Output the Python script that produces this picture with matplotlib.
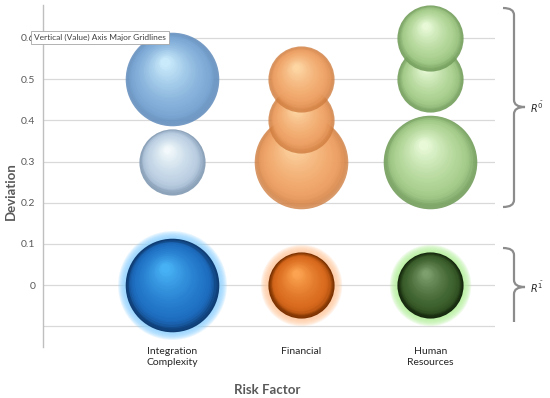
import numpy as np
import matplotlib
matplotlib.use("Agg")
import matplotlib.pyplot as plt
from matplotlib.transforms import offset_copy
from matplotlib.path import Path
from matplotlib.patches import PathPatch
from matplotlib.colors import to_rgb

# ---------------- data ----------------
categories = ["Integration\nComplexity", "Financial", "Human\nResources"]
cat_pos = [1, 2, 3]

# upper group (R^0-bar)
upper_cat = [0, 0, 1, 1, 1, 2, 2, 2]
upper_dev = [0.5, 0.3, 0.5, 0.4, 0.3, 0.6, 0.5, 0.3]
upper_size = [2, 1, 1, 1, 2, 1, 1, 2]

# lower group (R^1-bar)
lower_cat = [0, 1, 2]
lower_dev = [0.0, 0.0, 0.0]
lower_size = [2, 1, 1]

y_ticks = [-0.1, 0.0, 0.1, 0.2, 0.3, 0.4, 0.5, 0.6]
y_tick_labels = ["", "0", "0.1", "0.2", "0.3", "0.4", "0.5", "0.6"]

# ---------------- style ----------------
plt.rcParams['font.family'] = ['Lato', 'DejaVu Sans']
plt.rcParams['mathtext.fontset'] = 'dejavusans'

# (edge, base, highlight, alpha) per category
upper_colors = [
    ("#5f8bbb", "#80acd9", "#d2f2ff", 0.85),
    ("#cf7c3e", "#f0a468", "#ffdcaa", 0.78),
    ("#739e5c", "#a9d08e", "#f0ffe0", 0.9),
]
pale_blue = ("#8199b2", "#bdd0e4", "#f8feff", 0.9)
lower_colors = [
    ("#0f3d74", "#1f70c4", "#4ab6f8", 1.0, "#8fd2ff"),
    ("#7a3100", "#d9691c", "#ffa855", 1.0, "#ffc89e"),
    ("#15270d", "#3a5e2a", "#82a372", 1.0, "#b3f09a"),
]

S_UNIT = 2270.0  # points^2 per size unit

fig = plt.figure(figsize=(5.5, 3.98), dpi=100)
ax = fig.add_axes([43 / 550, 1 - 347 / 398, (495 - 43) / 550, (347 - 5) / 398])
ax.set_xlim(0, 3.5)
ax.set_ylim(-0.15, 0.68)


def mix(c1, c2, t):
    a = np.array(to_rgb(c1)); b = np.array(to_rgb(c2))
    return tuple(a + (b - a) * t)


def sphere(x, y, size, edge, base, hi, alpha, glow=None, z=3):
    s = size * S_UNIT
    d = np.sqrt(s)
    R = d / 2.0
    if glow is not None:
        for k in range(8):
            g = 5.5 * (1 - k / 8.0)
            ax.scatter([x], [y], s=(d + 2 * g) ** 2, color=glow, alpha=0.2,
                       lw=0, zorder=z, clip_on=False)
    ax.scatter([x], [y], s=s, color=edge, alpha=alpha, lw=0, zorder=z, clip_on=False)
    N = 30
    for i in range(1, N + 1):
        t = i / N
        f = 1 - 0.9 * t
        dx = -0.15 * R * t
        dy = 0.36 * R * t
        if t < 0.12:
            col = mix(edge, base, t / 0.12)
        else:
            col = mix(base, hi, ((t - 0.12) / 0.88) ** 1.4)
        tr = offset_copy(ax.transData, fig=fig, x=dx, y=dy, units='points')
        ax.scatter([x], [y], s=(d * f) ** 2, color=col,
                   alpha=0.35 if alpha < 1 else 0.45,
                   lw=0, zorder=z, transform=tr, clip_on=False)


# draw upper bubbles: larger first, then by ascending deviation
order = sorted(range(len(upper_dev)), key=lambda i: (-upper_size[i], upper_dev[i]))
for k, i in enumerate(order):
    c = upper_cat[i]
    cols = upper_colors[c]
    if c == 0 and upper_size[i] == 1:
        cols = pale_blue
    sphere(cat_pos[c], upper_dev[i], upper_size[i], *cols, z=3 + k * 0.01)

for i in range(len(lower_dev)):
    c = lower_cat[i]
    e, b, h, a, g = lower_colors[c]
    sphere(cat_pos[c], lower_dev[i], lower_size[i], e, b, h, a, glow=g, z=3)

# axes styling
ax.set_yticks(y_ticks)
ax.set_yticklabels(y_tick_labels)
ax.set_xticks(cat_pos)
ax.set_xticklabels(categories, linespacing=1.35)
ax.tick_params(axis='both', length=0, labelsize=7.5)
ax.tick_params(axis='y', colors="#595959", pad=5.5)
ax.tick_params(axis='x', colors="#262626", pad=0)
ax.grid(axis='y', color="#d9d9d9", lw=0.9)
ax.set_axisbelow(True)
for sp in ['top', 'right', 'bottom']:
    ax.spines[sp].set_visible(False)
ax.spines['left'].set_color("#bfbfbf")
ax.spines['left'].set_linewidth(1.0)

ax.set_ylabel("Deviation", fontsize=9.5, fontweight='bold', color="#595959")
ax.yaxis.set_label_coords(-0.058, 0.455)
ax.set_xlabel("Risk Factor", fontsize=9.5, fontweight='bold', color="#595959")
ax.xaxis.set_label_coords(0.497, -0.108)


# brackets (figure pixel coordinates converted to fractions)
def P(x, y):
    return (x / 550.0, 1 - y / 398.0)


def bracket(top, mid, bottom, curl_bottom=True):
    verts = [P(503, top), P(514, top), P(514, top + 7),
             P(514, mid - 7), P(514, mid), P(525, mid),
             P(514, mid), P(514, mid + 7), P(514, bottom - (7 if curl_bottom else 0))]
    codes = [Path.MOVETO, Path.CURVE3, Path.CURVE3,
             Path.LINETO, Path.CURVE3, Path.CURVE3,
             Path.CURVE3, Path.CURVE3, Path.LINETO]
    if curl_bottom:
        verts += [P(514, bottom), P(503, bottom)]
        codes += [Path.CURVE3, Path.CURVE3]
    patch = PathPatch(Path(verts, codes), transform=fig.transFigure,
                      fill=False, edgecolor="#8c8c8c", lw=1.6)
    fig.add_artist(patch)


bracket(8, 107, 207)
bracket(248, 287, 322, curl_bottom=False)
fig.text(*P(530, 107), r"$R^{\bar{0}}$", fontsize=7, va='center', ha='left', color="#262626")
fig.text(*P(530, 287), r"$R^{\bar{1}}$", fontsize=7, va='center', ha='left', color="#262626")

# tooltip shown in the reference
fig.text(*P(34, 37.5), "Vertical (Value) Axis Major Gridlines", fontsize=6.0,
         color="#404040", va='center', ha='left', zorder=20,
         bbox=dict(boxstyle='square,pad=0.4', fc='white', ec='#a6a6a6', lw=0.6))

fig.savefig("out.png", dpi=100)
